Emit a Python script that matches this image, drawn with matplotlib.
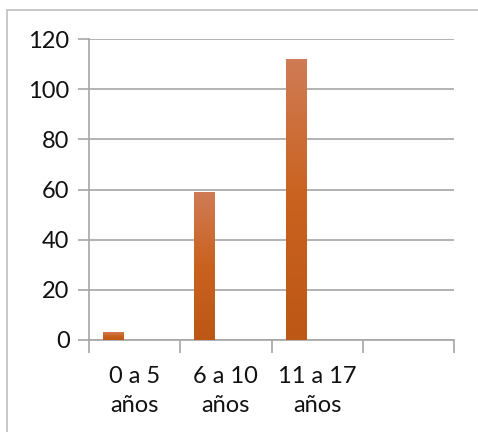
import matplotlib
matplotlib.use("Agg")
import matplotlib.pyplot as plt
import numpy as np
from matplotlib.colors import LinearSegmentedColormap
from matplotlib.patches import Rectangle

categories = ["0 a 5\naños", "6 a 10\naños", "11 a 17\naños", ""]
values = [3, 59, 112, None]
y_ticks = [0, 20, 40, 60, 80, 100, 120]

plt.rcParams["font.family"] = ["Lato", "DejaVu Sans"]

fig = plt.figure(figsize=(4.78, 4.32), dpi=100)
ax = fig.add_axes([89 / 478, 1 - 340 / 432, (454 - 89) / 478, (340 - 39) / 432])

# chart frame around the whole figure
fig.patches.append(Rectangle((7 / 478, -0.05), 1.1, 1 - 10 / 432 + 0.05,
                             transform=fig.transFigure, fill=False,
                             edgecolor="#BFBFBF", linewidth=1.2, zorder=0))

grad = LinearSegmentedColormap.from_list("bar", ["#BD5716", "#C9621F", "#D07B55"])
bar_w = 0.23
for i, v in enumerate(values):
    if v is None:
        continue
    x = i + 0.5 - bar_w
    bar = ax.bar(x, v, width=bar_w, align="center", color="#C86224",
                 linewidth=0, zorder=3)[0]
    img = ax.imshow(np.linspace(0, 1, 256).reshape(-1, 1), cmap=grad,
                    extent=[x - bar_w / 2, x + bar_w / 2, 0, v],
                    origin="lower", aspect="auto", zorder=4)
    img.set_clip_path(bar)

ax.set_xlim(0, len(categories))
ax.set_ylim(0, 120)
ax.set_yticks(y_ticks)
ax.set_yticklabels([str(t) for t in y_ticks])
ax.yaxis.grid(True, color="#A6A6A6", linewidth=1.2, zorder=0)
ax.set_axisbelow(True)

ax.set_xticks(range(len(categories) + 1))
ax.set_xticklabels([])
ax.set_xticks([i + 0.5 for i in range(len(categories))], minor=True)
ax.set_xticklabels(categories, minor=True, fontsize=17, linespacing=1.45,
                   color="#111111")
ax.tick_params(axis="x", which="major", length=9, width=1.2, color="#A6A6A6")
ax.tick_params(axis="x", which="minor", length=0, pad=19)
ax.tick_params(axis="y", length=8, width=1.2, color="#A6A6A6", labelsize=17,
               labelcolor="#111111", pad=6)

for side in ("top", "right"):
    ax.spines[side].set_visible(False)
for side in ("left", "bottom"):
    ax.spines[side].set_color("#A6A6A6")
    ax.spines[side].set_linewidth(1.2)

fig.savefig("out.png", dpi=100)
